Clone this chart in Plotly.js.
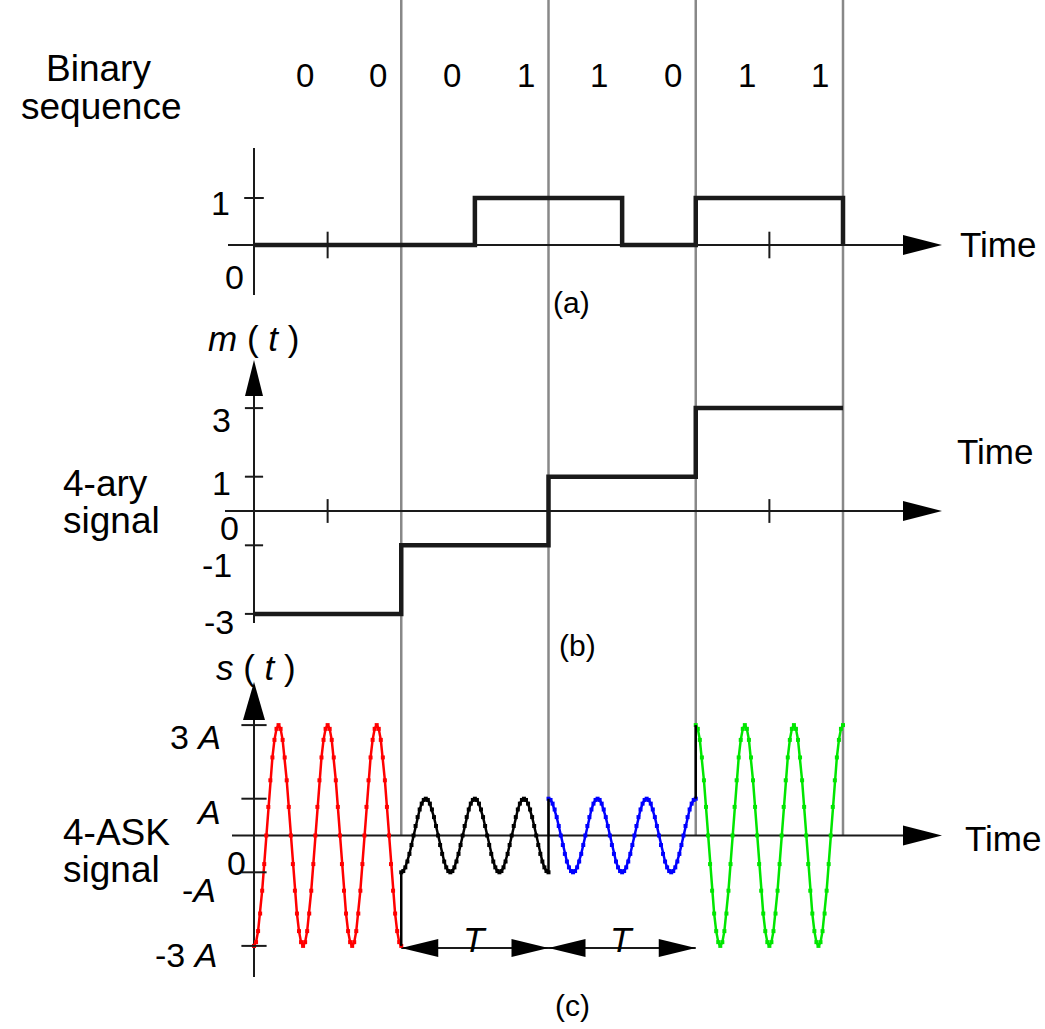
<!DOCTYPE html>
<html><head><meta charset="utf-8">
<script src="https://cdn.plot.ly/plotly-3.0.1.min.js"></script>
<style>html,body{margin:0;padding:0;background:#fff;} #chart{width:1045px;height:1029px;}</style>
</head><body><div id="chart"></div>
<script>
// ---------------- data ----------------
const bits = [0, 0, 0, 1, 1, 0, 1, 1];
const bitLabels = ['0', '0', '0', '1', '1', '0', '1', '1'];
const symbolLevels = [-3, -1, 1, 3];            // 4-ary levels for 00, 01, 10, 11
const symbolColors = ['#ff0000', '#000000', '#0000ff', '#00e600'];
const bitsPerSymbol = 2;
const cyclesPerSymbol = 3;
// one carrier cycle (cosine) read as 24 samples
const carrierCycle = [1, 0.966, 0.866, 0.707, 0.5, 0.259, 0, -0.259, -0.5, -0.707, -0.866, -0.966,
                      -1, -0.966, -0.866, -0.707, -0.5, -0.259, 0, 0.259, 0.5, 0.707, 0.866, 0.966];
const timeTicks = [1, 7];
const binaryTickVals = [1];
const mTickVals = [3, 1, -1, -3];
const sTickVals = [3, 1, -1, -3];
const binaryTickLabels = ['1', '0'];
const mTickLabels = ['3', '1', '0', '-1', '-3'];
const sTickLabels = ['3 <i>A</i>', '<i>A</i>', '0', '-<i>A</i>', '-3 <i>A</i>'];

// ---------------- geometry ----------------
const W = 1045, H = 1029;
const X0 = 254, XU = 73.625;
const PA = {zero: 245, unit: 47};
const PB = {zero: 511, unit: 34.3};
const PC = {zero: 835.5, unit: 36.8};
const yRange = p => [(p.zero - H) / p.unit, p.zero / p.unit];
const tx = px => (px - X0) / XU;
const vy = (p, py) => (p.zero - py) / p.unit;
const FONT = 'Liberation Sans, Arial, Helvetica, sans-serif';
const INK = '#1a1a1a';

const nBits = bits.length;
const nSym = symbolLevels.length;

// ---------------- traces ----------------
const traces = [];

// (a) binary waveform
const ax = [], ay = [];
bits.forEach((b, i) => { ax.push(i); ay.push(b); });
ax.push(nBits, nBits); ay.push(bits[nBits - 1], 0);
traces.push({x: ax, y: ay, yaxis: 'y', mode: 'lines', line: {shape: 'hv', color: INK, width: 4.5}});

// (b) 4-ary waveform
const bx = [], by = [];
symbolLevels.forEach((m, k) => { bx.push(k * bitsPerSymbol); by.push(m); });
bx.push(nSym * bitsPerSymbol); by.push(symbolLevels[nSym - 1]);
traces.push({x: bx, y: by, yaxis: 'y2', mode: 'lines', line: {shape: 'hv', color: INK, width: 4.5}});

// (c) 4-ASK waveform, one trace per symbol
const N = carrierCycle.length * cyclesPerSymbol;
symbolLevels.forEach((m, k) => {
  const xs = [], ys = [];
  for (let j = 0; j <= N; j++) {
    xs.push(k * bitsPerSymbol + bitsPerSymbol * j / N);
    ys.push(m * carrierCycle[j % carrierCycle.length]);
  }
  traces.push({x: xs, y: ys, yaxis: 'y3', mode: 'lines+markers',
    line: {color: symbolColors[k], width: 2.5},
    marker: {color: symbolColors[k], size: 4, symbol: 'square'}});
});
// jumps between symbols
const jx = [], jy = [];
for (let k = 1; k < nSym; k++) {
  jx.push(k * bitsPerSymbol, k * bitsPerSymbol, null);
  jy.push(symbolLevels[k - 1], symbolLevels[k], null);
}
traces.push({x: jx, y: jy, yaxis: 'y3', mode: 'lines', line: {color: '#000', width: 2.5}});

// tick marks
const tickMarker = (sym, size) => ({symbol: sym, size: size, color: INK, line: {color: INK, width: 2}});
traces.push({x: timeTicks, y: timeTicks.map(() => 0), yaxis: 'y', mode: 'markers', marker: tickMarker('line-ns', 19)});
traces.push({x: binaryTickVals.map(() => 0), y: binaryTickVals, yaxis: 'y', mode: 'markers', marker: tickMarker('line-ew', 14)});
traces.push({x: timeTicks, y: timeTicks.map(() => 0), yaxis: 'y2', mode: 'markers', marker: tickMarker('line-ns', 17)});
traces.push({x: mTickVals.map(() => 0), y: mTickVals, yaxis: 'y2', mode: 'markers', marker: tickMarker('line-ew', 13)});
traces.push({x: sTickVals.map(() => 0), y: sTickVals, yaxis: 'y3', mode: 'markers', marker: tickMarker('line-ew', 18)});

// ---------------- shapes ----------------
const shapes = [];
const cTop = yRange(PC)[1];
for (let k = 1; k <= nSym; k++) {
  shapes.push({type: 'line', layer: 'below', xref: 'x', yref: 'y3', x0: k * bitsPerSymbol, x1: k * bitsPerSymbol,
    y0: 0, y1: cTop, line: {color: '#888', width: 2.5}});
}
const axLine = (yref, x0, x1, y0, y1) => ({type: 'line', layer: 'below', xref: 'x', yref: yref,
  x0: x0, x1: x1, y0: y0, y1: y1, line: {color: INK, width: 2}});
// (a)
shapes.push(axLine('y', tx(228), tx(905), 0, 0));
shapes.push(axLine('y', 0, 0, vy(PA, 148), vy(PA, 295)));
// (b)
shapes.push(axLine('y2', tx(225), tx(905), 0, 0));
shapes.push(axLine('y2', 0, 0, vy(PB, 394), vy(PB, 623)));
// (c)
shapes.push(axLine('y3', tx(232), tx(905), 0, 0));
shapes.push(axLine('y3', 0, 0, vy(PC, 718), vy(PC, 977)));
// T span lines
const tY = vy(PC, 948);
shapes.push(axLine('y3', 2, 6, tY, tY));

const head = (yref, xa, ya, path) => ({type: 'path', layer: 'above', xref: 'x', yref: yref,
  xsizemode: 'pixel', ysizemode: 'pixel', xanchor: xa, yanchor: ya, path: path,
  fillcolor: '#000', line: {width: 0}});
const RIGHT = 'M0,0 L-39,10 L-39,-10 Z';
shapes.push(head('y', tx(942), 0, RIGHT));
shapes.push(head('y2', tx(942), 0, RIGHT));
shapes.push(head('y3', tx(942), 0, RIGHT));
shapes.push(head('y2', 0, vy(PB, 360), 'M0,0 L-9,-36 L9,-36 Z'));
shapes.push(head('y3', 0, vy(PC, 682), 'M0,0 L-11,-38 L11,-38 Z'));
// T arrows
[2, 4].forEach(s => {
  shapes.push(head('y3', s, tY, 'M0,0 L37,9 L37,-9 Z'));
  shapes.push(head('y3', s + 2, tY, 'M0,0 L-37,9 L-37,-9 Z'));
});

// ---------------- annotations ----------------
const ann = [];
const lab = (text, px, py, size, xanchor, extra) => ann.push(Object.assign({
  text: text, xref: 'paper', yref: 'paper', x: px / W, y: 1 - py / H,
  xanchor: xanchor || 'center', yanchor: 'middle', showarrow: false,
  font: {family: FONT, size: size, color: '#000'}, borderpad: 0}, extra || {}));

bitLabels.forEach((b, i) => ann.push({text: b, xref: 'x', yref: 'paper', x: i + 0.5, xshift: 14,
  y: 1 - 75 / H, yanchor: 'middle', showarrow: false, font: {family: FONT, size: 33, color: '#000'}}));

lab('Binary', 98, 68, 37);
lab('sequence', 101, 106, 37);
lab('4-ary', 62, 483, 37, 'left');
lab('signal', 62, 520, 37, 'left');
lab('4-ASK', 62, 832, 37, 'left');
lab('signal', 62, 869, 37, 'left');
lab('Time', 998, 244, 35);
lab('Time', 995, 452, 35);
lab('Time', 1003, 838, 35);
lab('(a)', 571, 302, 30);
lab('(b)', 577, 645, 30);
lab('(c)', 572, 1005, 30);
lab('<i>m</i> ( <i>t</i> )', 253, 338, 35);
lab('<i>s</i> ( <i>t</i> )', 256, 667, 35);

// tick labels
const aPos = [[231, 203], [245, 277]];
binaryTickLabels.forEach((t, i) => lab(t, aPos[i][0], aPos[i][1], 34, 'right'));
const bPos = [[232, 420], [232, 483], [240, 528], [233, 565], [235, 622]];
mTickLabels.forEach((t, i) => lab(t, bPos[i][0], bPos[i][1], 34, 'right'));
const cPos = [[222, 737], [222, 812], [247, 863], [217, 890], [218, 955]];
sTickLabels.forEach((t, i) => lab(t, cPos[i][0], cPos[i][1], 34, 'right'));

// T labels
[3, 5].forEach(t => ann.push({text: '<i>T</i>', xref: 'x', yref: 'y3', x: t, y: tY, yshift: 9,
  yanchor: 'middle', showarrow: false, font: {family: FONT, size: 35, color: '#000'}}));

// ---------------- layout ----------------
const layout = {
  width: W, height: H, margin: {l: 0, r: 0, t: 0, b: 0},
  paper_bgcolor: '#fff', plot_bgcolor: '#fff', showlegend: false, hovermode: false,
  xaxis: {range: [tx(0), tx(W)], visible: false, fixedrange: true},
  yaxis: {range: yRange(PA), visible: false, fixedrange: true},
  yaxis2: {range: yRange(PB), visible: false, overlaying: 'y', fixedrange: true},
  yaxis3: {range: yRange(PC), visible: false, overlaying: 'y', fixedrange: true},
  shapes: shapes, annotations: ann
};
Plotly.newPlot('chart', traces, layout, {staticPlot: true, displayModeBar: false});
</script></body></html>
